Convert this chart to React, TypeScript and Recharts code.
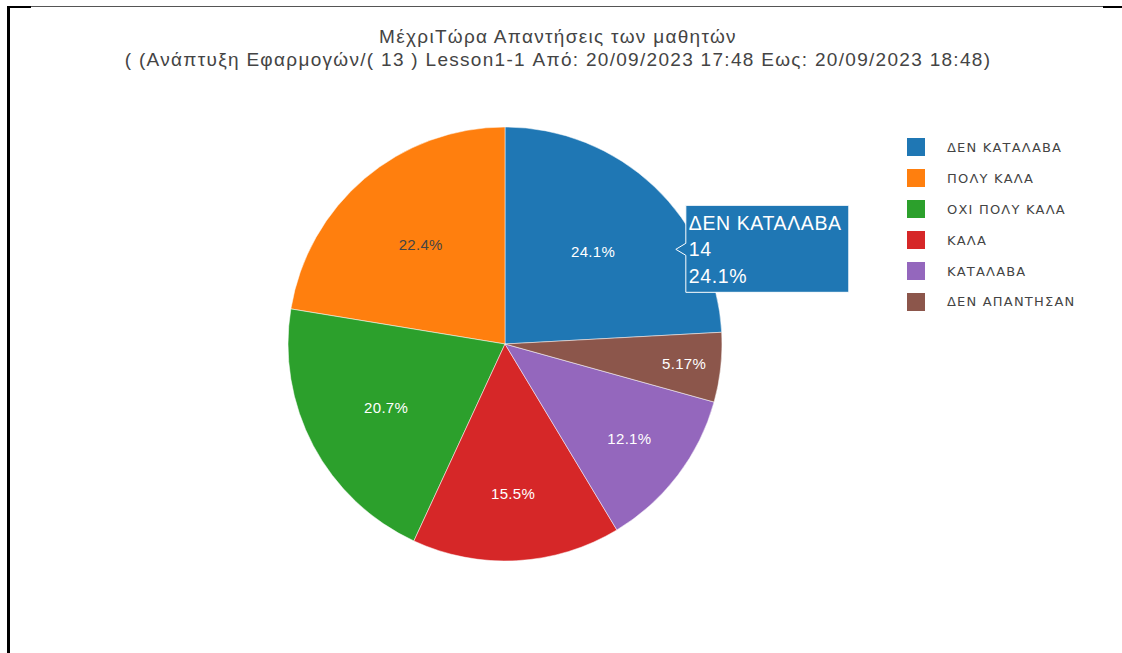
import React from "react";
import { PieChart, Pie, Cell, Legend } from "recharts";

const categories = [
  "ΔΕΝ ΚΑΤΑΛΑΒΑ",
  "ΠΟΛΥ ΚΑΛΑ",
  "ΟΧΙ ΠΟΛΥ ΚΑΛΑ",
  "ΚΑΛΑ",
  "ΚΑΤΑΛΑΒΑ",
  "ΔΕΝ ΑΠΑΝΤΗΣΑΝ",
];
const counts = [14, 13, 12, 9, 7, 3];

const COLORS = ["#1f77b4", "#ff7f0e", "#2ca02c", "#d62728", "#9467bd", "#8c564b"];
// how far out (fraction of radius) plotly pushed each inside label
const LABEL_R = [0.59, 0.6, 0.62, 0.69, 0.72, 0.83];

const TITLE_1 = "ΜέχριΤώρα Απαντήσεις των μαθητών";
const TITLE_2 =
  "( (Ανάπτυξη Εφαρμογών/( 13 ) Lesson1-1 Από: 20/09/2023 17:48 Εως: 20/09/2023 18:48)";

const data = categories.map((name, i) => ({ name, value: counts[i] }));
const total = counts.reduce((a, b) => a + b, 0);
// plotly layout: first slice ends at 12 o'clock, going counterclockwise
const START = 90 - (360 * counts[0]) / total;

const RAD = Math.PI / 180;
const FONT = "'Liberation Sans', Arial, sans-serif";

const textOn = (hex: string) => {
  const r = parseInt(hex.slice(1, 3), 16);
  const g = parseInt(hex.slice(3, 5), 16);
  const b = parseInt(hex.slice(5, 7), 16);
  return 0.299 * r + 0.587 * g + 0.114 * b > 150 ? "#444" : "#fff";
};

const renderLabel = (props: any) => {
  const { cx, cy, midAngle, outerRadius, percent, index } = props;
  const r = outerRadius * LABEL_R[index];
  const x = cx + r * Math.cos(-midAngle * RAD);
  const y = cy + r * Math.sin(-midAngle * RAD);
  const pct = (percent * 100).toPrecision(3) + "%";
  const label = (
    <text
      x={x}
      y={y}
      textAnchor="middle"
      dominantBaseline="central"
      fill={textOn(COLORS[index])}
      fontFamily={FONT}
      fontSize={15}
      letterSpacing={0.3}
    >
      {pct}
    </text>
  );
  if (index !== 0) return label;

  // hover box of the first slice
  const ax = cx + outerRadius * 0.9 * Math.cos(29 * RAD);
  const ay = cy - outerRadius * 0.9 * Math.sin(29 * RAD);
  const bx = ax + 10;
  const w = 163;
  const top = ay - 44;
  const bot = ay + 43;
  const d = `M${ax},${ay} L${bx},${ay - 6} L${bx},${top} L${bx + w},${top} L${bx + w},${bot} L${bx},${bot} L${bx},${ay + 6} Z`;
  return (
    <g>
      {label}
      <path d={d} fill={COLORS[0]} stroke="#fff" strokeWidth={1} />
      <text fill="#fff" fontFamily={FONT} fontSize={19.5} letterSpacing={0.6}>
        <tspan x={bx + 3} y={ay - 19}>{data[0].name}</tspan>
        <tspan x={bx + 3} y={ay + 7}>{data[0].value}</tspan>
        <tspan x={bx + 3} y={ay + 34}>{pct}</tspan>
      </text>
    </g>
  );
};

const renderLegend = (props: any) => {
  const payload: any[] = props.payload || [];
  // keep trace order, not the alphabetical order recharts hands over
  const items = categories.map((name, i) => {
    const hit = payload.find((p) => p.value === name);
    return { name, color: hit ? hit.color : COLORS[i] };
  });
  return (
    <div>
      {items.map((entry, i) => (
        <div
          key={`leg-${i}`}
          style={{ display: "flex", alignItems: "center", height: 30.9 }}
        >
          <span
            style={{
              width: 18,
              height: 18,
              background: entry.color,
              display: "inline-block",
              marginRight: 22,
            }}
          />
          <span
            style={{
              fontFamily: "'DejaVu Sans', sans-serif",
              fontSize: 13,
              letterSpacing: 1.2,
              color: "#444",
            }}
          >
            {entry.name}
          </span>
        </div>
      ))}
    </div>
  );
};

export default function App() {
  return (
    <div
      style={{
        position: "fixed",
        left: 0,
        top: 0,
        width: 1122,
        height: 653,
        background: "#fff",
        overflow: "hidden",
      }}
    >
      {/* page frame */}
      <div style={{ position: "absolute", left: 7, top: 6, width: 3, height: 660, background: "#000" }} />
      <div style={{ position: "absolute", left: 7, top: 6, width: 24, height: 2, background: "#000" }} />
      <div style={{ position: "absolute", left: 31, top: 6, width: 1072, height: 1, background: "#555" }} />
      <div style={{ position: "absolute", left: 1103, top: 6, width: 19, height: 2, background: "#000" }} />

      <div
        style={{
          position: "absolute",
          left: 0,
          top: 25,
          width: 1116,
          textAlign: "center",
          fontFamily: FONT,
          fontSize: 19,
          lineHeight: "23px",
          letterSpacing: 1.3,
          color: "#444",
        }}
      >
        <div>{TITLE_1}</div>
        <div>{TITLE_2}</div>
      </div>

      <div style={{ position: "absolute", left: 0, top: 0 }}>
        <PieChart width={1122} height={653} margin={{ top: 0, right: 0, bottom: 0, left: 0 }}>
          <Pie
            data={data}
            dataKey="value"
            nameKey="name"
            cx={505}
            cy={344}
            outerRadius={217}
            startAngle={START}
            endAngle={START + 360}
            stroke="#fff"
            strokeWidth={0.5}
            label={renderLabel}
            labelLine={false}
            isAnimationActive={false}
          >
            {data.map((entry, index) => (
              <Cell key={`cell-${index}`} fill={COLORS[index % COLORS.length]} />
            ))}
          </Pie>
          <Legend
            layout="vertical"
            align="right"
            verticalAlign="top"
            content={renderLegend}
            wrapperStyle={{ left: 907, top: 132, width: 210 }}
          />
        </PieChart>
      </div>
    </div>
  );
}
